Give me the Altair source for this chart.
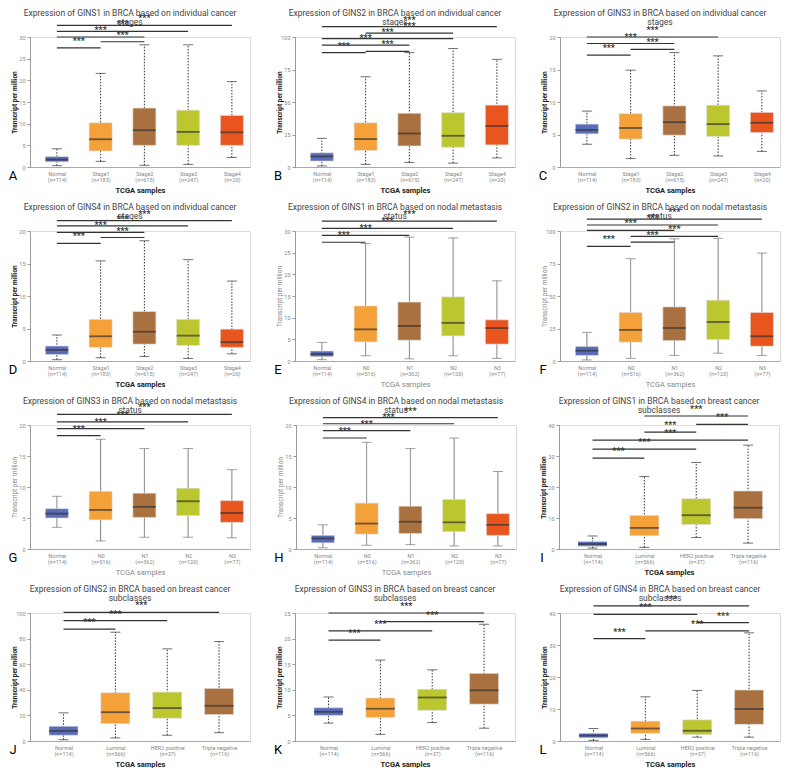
import altair as alt
import pandas as pd

# ---------------- categories / labels ----------------
stage_cats = ["Normal", "Stage1", "Stage2", "Stage3", "Stage4"]
stage_n = ["(n=114)", "(n=183)", "(n=615)", "(n=247)", "(n=20)"]
nodal_cats = ["Normal", "N0", "N1", "N2", "N3"]
nodal_n = ["(n=114)", "(n=516)", "(n=362)", "(n=120)", "(n=77)"]
sub_cats = ["Normal", "Luminal", "HER2 positive", "Triple negative"]
sub_n = ["(n=114)", "(n=566)", "(n=37)", "(n=116)"]

stage_colors = ["#5a6bb8", "#f4a13a", "#a9713f", "#bcc62e", "#e9551f"]
nodal_colors = ["#5a6bb8", "#f4a13a", "#a9713f", "#bcc62e", "#e9551f"]
sub_colors = ["#5a6bb8", "#f4a13a", "#bcc62e", "#a9713f"]

# ---------------- A: GINS1 stages ----------------
a_min = [0.3, 1.3, 0.4, 0.6, 2.2]
a_q1 = [1.2, 3.7, 5.0, 5.0, 5.0]
a_med = [1.7, 6.4, 8.5, 8.1, 8.0]
a_q3 = [2.4, 10.2, 13.6, 13.1, 11.9]
a_max = [4.2, 21.6, 28.2, 28.2, 19.7]
a_sig_from = [0, 1, 0, 0, 0]
a_sig_to = [1, 2, 2, 3, 4]
a_sig_y = [27.5, 28.9, 30.0, 31.3, 32.7]

# ---------------- B: GINS2 stages ----------------
b_min = [0.8, 2.0, 3.5, 3.0, 7.0]
b_q1 = [4.6, 12.7, 16.2, 15.2, 17.0]
b_med = [8.1, 21.5, 25.8, 24.0, 31.6]
b_q3 = [10.9, 34.0, 41.3, 41.8, 47.6]
b_max = [22.0, 69.4, 88.0, 91.1, 82.8]
b_sig_from = [0, 1, 0, 0, 1, 0]
b_sig_to = [1, 2, 2, 3, 3, 4]
b_sig_y = [88.0, 89.0, 93.7, 98.7, 103.0, 108.0]

# ---------------- C: GINS3 stages ----------------
c_min = [3.5, 1.3, 1.8, 1.7, 2.4]
c_q1 = [5.1, 4.3, 4.9, 4.7, 5.3]
c_med = [5.7, 6.0, 6.9, 6.6, 6.8]
c_q3 = [6.6, 8.2, 9.4, 9.5, 8.4]
c_max = [8.6, 14.9, 17.6, 17.1, 11.7]
c_sig_from = [0, 1, 0, 0]
c_sig_to = [1, 2, 2, 3]
c_sig_y = [17.2, 18.1, 19.0, 20.0]

# ---------------- D: GINS4 stages ----------------
d_min = [0.2, 0.5, 0.7, 0.4, 1.1]
d_q1 = [1.0, 2.1, 2.6, 2.4, 2.1]
d_med = [1.7, 3.8, 4.5, 3.9, 2.9]
d_q3 = [2.3, 6.4, 7.6, 6.4, 4.9]
d_max = [4.0, 15.4, 18.5, 15.6, 12.3]
d_sig_from = [0, 1, 0, 0, 0]
d_sig_to = [1, 2, 2, 3, 4]
d_sig_y = [18.1, 19.0, 19.8, 20.8, 21.6]

# ---------------- E: GINS1 nodal ----------------
e_min = [0.3, 1.2, 0.5, 1.2, 0.6]
e_q1 = [1.0, 4.4, 4.8, 5.8, 3.9]
e_med = [1.6, 7.3, 8.1, 8.8, 7.6]
e_q3 = [2.3, 12.7, 13.6, 14.8, 9.5]
e_max = [4.3, 27.1, 28.6, 28.4, 18.5]
e_sig_from = [0, 0, 0, 0]
e_sig_to = [1, 2, 3, 4]
e_sig_y = [27.4, 29.0, 30.6, 32.3]

# ---------------- F: GINS2 nodal ----------------
f_min = [0.8, 2.0, 4.3, 6.0, 4.3]
f_q1 = [4.3, 14.5, 15.7, 16.5, 11.4]
f_med = [7.9, 23.9, 25.4, 30.0, 19.0]
f_q3 = [11.2, 37.3, 41.6, 46.7, 37.3]
f_max = [22.0, 78.7, 94.0, 94.4, 83.0]
f_sig_from = [0, 1, 1, 0, 0, 0]
f_sig_to = [1, 2, 3, 2, 3, 4]
f_sig_y = [88.1, 91.4, 95.9, 100.5, 104.6, 109.1]

# ---------------- G: GINS3 nodal ----------------
g_min = [3.5, 1.3, 1.9, 1.9, 1.8]
g_q1 = [5.0, 4.7, 5.1, 5.4, 4.3]
g_med = [5.7, 6.3, 6.8, 7.7, 5.8]
g_q3 = [6.5, 9.3, 9.0, 9.8, 7.8]
g_max = [8.5, 17.7, 16.2, 16.2, 12.8]
g_sig_from = [0, 0, 0, 0]
g_sig_to = [1, 2, 3, 4]
g_sig_y = [18.3, 19.4, 20.5, 21.7]

# ---------------- H: GINS4 nodal ----------------
h_min = [0.2, 0.6, 0.7, 0.5, 0.5]
h_q1 = [1.0, 2.4, 2.5, 2.8, 2.2]
h_med = [1.7, 4.1, 4.4, 4.3, 3.9]
h_q3 = [2.2, 7.4, 6.9, 8.0, 5.7]
h_max = [3.9, 17.2, 16.2, 17.9, 12.5]
h_sig_from = [0, 0, 0, 0]
h_sig_to = [1, 2, 3, 4]
h_sig_y = [17.9, 19.1, 20.2, 21.2]

# ---------------- I: GINS1 subclasses ----------------
i_min = [0.3, 0.5, 3.7, 1.9]
i_q1 = [0.9, 4.3, 7.9, 9.8]
i_med = [1.6, 6.8, 10.9, 13.3]
i_q3 = [2.4, 10.8, 16.2, 18.7]
i_max = [4.2, 23.4, 27.9, 33.5]
i_sig_from = [0, 0, 0, 1, 2, 1]
i_sig_to = [1, 2, 3, 2, 3, 3]
i_sig_y = [29.3, 32.2, 35.1, 37.7, 40.2, 42.9]

# ---------------- J: GINS2 subclasses ----------------
j_min = [1.0, 2.4, 4.5, 6.5]
j_q1 = [4.5, 13.6, 17.8, 20.7]
j_med = [7.9, 22.5, 25.7, 27.5]
j_q3 = [11.5, 37.7, 38.2, 41.1]
j_max = [22.0, 85.0, 72.0, 77.7]
j_sig_from = [0, 0, 0]
j_sig_to = [1, 2, 3]
j_sig_y = [87.4, 94.0, 100.5]

# ---------------- K: GINS3 subclasses ----------------
k_min = [3.5, 1.3, 3.6, 2.5]
k_q1 = [5.0, 4.6, 6.0, 7.2]
k_med = [5.7, 6.3, 8.5, 9.9]
k_q3 = [6.5, 8.4, 10.1, 13.2]
k_max = [8.6, 15.8, 13.9, 22.8]
k_sig_from = [0, 0, 1, 0]
k_sig_to = [1, 2, 3, 3]
k_sig_y = [19.7, 21.5, 23.3, 25.0]

# ---------------- L: GINS4 subclasses ----------------
l_min = [0.2, 0.5, 1.2, 1.2]
l_q1 = [1.0, 2.4, 2.0, 5.2]
l_med = [1.7, 3.9, 3.2, 10.0]
l_q3 = [2.4, 6.2, 6.6, 15.9]
l_max = [3.9, 13.8, 15.8, 33.8]
l_sig_from = [0, 1, 2, 0, 0]
l_sig_to = [1, 3, 3, 2, 3]
l_sig_y = [32.0, 34.4, 37.0, 39.6, 42.2]

FONT = "Roboto"
PLOT_W = 220


def panel(letter, title, cats, ns, colors, mins, q1s, meds, q3s, maxs,
          sfrom, sto, sy, ymax, ystep, height, dashed, strong, width=PLOT_W):
    n = len(cats)
    df = pd.DataFrame({"idx": list(range(n)), "cat": cats, "col": colors, "lo": mins,
                       "q1": q1s, "med": meds, "q3": q3s, "hi": maxs})
    sig = pd.DataFrame({"a": sfrom, "b": sto, "y": sy})
    xdom = [-0.5, n - 0.7] if n == 5 else [-0.55, n - 0.5]
    boxw = 23 if n == 5 else 29
    labels = [f"{c}|{m}" for c, m in zip(cats, ns)]
    expr = "split([" + ",".join(f"'{l}'" for l in labels) + "][datum.value], '|')"
    tcol = "#222" if strong else "#888"
    tw = "bold" if strong else "normal"
    xaxis = alt.Axis(values=list(range(n)), labelExpr=expr, title="TCGA samples",
                     ticks=False, grid=False, domainColor="#aaa",
                     labelFontSize=5.5, labelColor="#888", labelLineHeight=6.5,
                     labelPadding=4, titleFontSize=7.5, titleFontWeight=tw,
                     titleColor=tcol, titlePadding=3, titleFont=FONT, labelFont=FONT)
    yaxis = alt.Axis(values=list(range(0, ymax + 1, ystep)), title="Transcript per million",
                     grid=False, tickSize=3, domainColor="#999", tickColor="#999",
                     labelFontSize=5.5, labelColor="#888", titleFontSize=6.5,
                     titleFontWeight=tw, titleColor=tcol, minExtent=11, maxExtent=11,
                     titlePadding=2, labelPadding=2, titleFont=FONT, labelFont=FONT)
    xs = alt.Scale(domain=xdom, nice=False, zero=False)
    ys = alt.Scale(domain=[0, ymax], nice=False, zero=True)

    def X(f):
        return alt.X(f, type="quantitative", scale=xs, axis=xaxis, title="TCGA samples")

    def Y(f):
        return alt.Y(f, type="quantitative", scale=ys, axis=yaxis, title="Transcript per million")

    base = alt.Chart(df)
    wcol = "#333" if dashed else "#777"
    whisk = base.mark_rule(color=wcol, strokeWidth=1,
                           strokeDash=[1.5, 1.5] if dashed else [1, 0]).encode(
        x=X("idx"), y=Y("lo"), y2="hi")
    cap_lo = base.mark_tick(orient="horizontal", size=10, thickness=1, color=wcol).encode(
        x=X("idx"), y=Y("lo"))
    cap_hi = base.mark_tick(orient="horizontal", size=10, thickness=1, color=wcol).encode(
        x=X("idx"), y=Y("hi"))
    box = base.mark_bar(size=boxw, stroke="#dddddd", strokeWidth=0.6).encode(
        x=X("idx"), y=Y("q1"), y2="q3",
        color=alt.Color("col:N", scale=None, legend=None))
    med = base.mark_tick(orient="horizontal", size=boxw, thickness=1.8, color="#333").encode(
        x=X("idx"), y=Y("med"))
    sigbase = alt.Chart(sig)
    lines = sigbase.mark_rule(color="#333", strokeWidth=1.2).encode(
        x=X("a"), x2="b", y=Y("y"))
    stars = sigbase.transform_calculate(mid="(datum.a + datum.b) / 2", t="'***'").mark_text(
        fontSize=9, fontWeight="bold", color="#333", dy=-2, baseline="bottom", font=FONT).encode(
        x=X("mid:Q"), y=Y("y"), text="t:N")
    one = pd.DataFrame({"t": [letter]})
    let = alt.Chart(one).mark_text(
        fontSize=13, color="#000", align="center", baseline="middle", font=FONT).encode(
        text="t:N", x=alt.value(-17), y=alt.value(height + 9))
    ttl = alt.Chart(one).mark_text(
        text=title, fontSize=8.5, color="#444", align="center", baseline="top",
        lineHeight=9, font=FONT).encode(x=alt.value(width / 2 - 10), y=alt.value(-28))
    return alt.layer(whisk, cap_lo, cap_hi, box, med, lines, stars, let, ttl).properties(
        width=width, height=height)


def T(gene, kind):
    if kind == "stage":
        return [f"Expression of {gene} in BRCA based on individual cancer", "stages"]
    if kind == "nodal":
        return [f"Expression of {gene} in BRCA based on nodal metastasis", "status"]
    return [f"Expression of {gene} in BRCA based on breast cancer", "subclasses"]


pA = panel("A", T("GINS1", "stage"), stage_cats, stage_n, stage_colors, a_min, a_q1, a_med, a_q3, a_max,
           a_sig_from, a_sig_to, a_sig_y, 30, 5, 130, True, True)
pB = panel("B", T("GINS2", "stage"), stage_cats, stage_n, stage_colors, b_min, b_q1, b_med, b_q3, b_max,
           b_sig_from, b_sig_to, b_sig_y, 100, 25, 130, True, True)
pC = panel("C", T("GINS3", "stage"), stage_cats, stage_n, stage_colors, c_min, c_q1, c_med, c_q3, c_max,
           c_sig_from, c_sig_to, c_sig_y, 20, 5, 130, True, True)
pD = panel("D", T("GINS4", "stage"), stage_cats, stage_n, stage_colors, d_min, d_q1, d_med, d_q3, d_max,
           d_sig_from, d_sig_to, d_sig_y, 20, 5, 130, True, True)
pE = panel("E", T("GINS1", "nodal"), nodal_cats, nodal_n, nodal_colors, e_min, e_q1, e_med, e_q3, e_max,
           e_sig_from, e_sig_to, e_sig_y, 30, 5, 130, False, False)
pF = panel("F", T("GINS2", "nodal"), nodal_cats, nodal_n, nodal_colors, f_min, f_q1, f_med, f_q3, f_max,
           f_sig_from, f_sig_to, f_sig_y, 100, 25, 130, False, False)
pG = panel("G", T("GINS3", "nodal"), nodal_cats, nodal_n, nodal_colors, g_min, g_q1, g_med, g_q3, g_max,
           g_sig_from, g_sig_to, g_sig_y, 20, 5, 124, False, False)
pH = panel("H", T("GINS4", "nodal"), nodal_cats, nodal_n, nodal_colors, h_min, h_q1, h_med, h_q3, h_max,
           h_sig_from, h_sig_to, h_sig_y, 20, 5, 124, False, False)
pI = panel("I", T("GINS1", "sub"), sub_cats, sub_n, sub_colors, i_min, i_q1, i_med, i_q3, i_max,
           i_sig_from, i_sig_to, i_sig_y, 40, 10, 124, True, True)
pJ = panel("J", T("GINS2", "sub"), sub_cats, sub_n, sub_colors, j_min, j_q1, j_med, j_q3, j_max,
           j_sig_from, j_sig_to, j_sig_y, 100, 20, 128, True, True)
pK = panel("K", T("GINS3", "sub"), sub_cats, sub_n, sub_colors, k_min, k_q1, k_med, k_q3, k_max,
           k_sig_from, k_sig_to, k_sig_y, 25, 5, 128, True, True)
pL = panel("L", T("GINS4", "sub"), sub_cats, sub_n, sub_colors, l_min, l_q1, l_med, l_q3, l_max,
           l_sig_from, l_sig_to, l_sig_y, 40, 10, 128, True, True)

rows = [alt.hconcat(pA, pB, pC, spacing=22), alt.hconcat(pD, pE, pF, spacing=22),
        alt.hconcat(pG, pH, pI, spacing=22), alt.hconcat(pJ, pK, pL, spacing=22)]
chart = alt.vconcat(*rows, spacing=8).properties(
    padding={"left": 0, "top": 0, "right": 0, "bottom": 0}
).configure_view(stroke=None).configure(font=FONT, background="white")

chart.save("out.html", embed_options={"renderer": "svg", "actions": False})
